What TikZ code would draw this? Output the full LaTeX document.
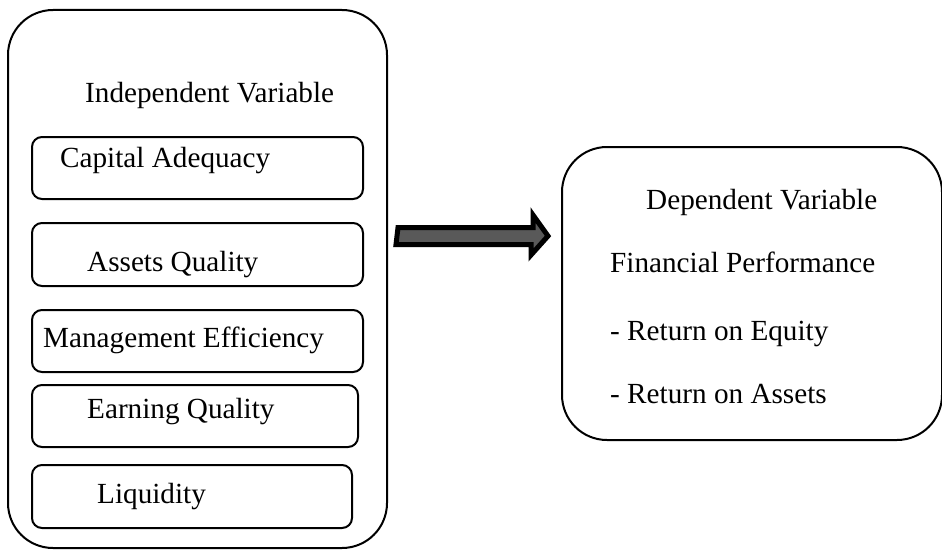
\documentclass[tikz,border=0pt]{standalone}
\usepackage{fontspec}
\setmainfont{Liberation Serif}
\begin{document}
\begin{tikzpicture}[x=1pt, y=-1pt,
	groupBox/.style={rectangle, draw=black, line width=2pt, rounded corners=45pt},
	itemBox/.style={rectangle, draw=black, line width=2pt, rounded corners=10pt, minimum height=62pt},
	itemText/.style={anchor=base west, inner sep=0pt, font=\fontsize{29.2}{35}\selectfont}]
	\useasboundingbox (0,0) rectangle (942,551);

	\node[groupBox, minimum width=379pt, minimum height=538pt](indepBox) at (197.5,279){};
	\node[groupBox, minimum width=380pt, minimum height=293pt](depBox) at (752,293.5){};

	\node[itemBox, minimum width=331pt](capitalBox) at (197.5,168){};
	\node[itemBox, minimum width=331pt, minimum height=63pt](assetsBox) at (197.5,254.5){};
	\node[itemBox, minimum width=331pt](managementBox) at (197.5,341){};
	\node[itemBox, minimum width=326pt](earningBox) at (195,416){};
	\node[itemBox, minimum width=320pt, minimum height=63pt](liquidityBox) at (192,496.5){};

	\node[itemText](indepText) at (85,102){Independent Variable};
	\node[itemText](capitalText) at (60,167){Capital Adequacy};
	\node[itemText](assetsText) at (87,271){Assets Quality};
	\node[itemText](managementText) at (43,347){Management Efficiency};
	\node[itemText](earningText) at (87,418){Earning Quality};
	\node[itemText](liquidityText) at (97,503){Liquidity};

	\node[itemText](depText) at (646,209){Dependent Variable};
	\node[itemText](perfText) at (610,272){Financial Performance};
	\node[itemText](roeText) at (610,340){- Return on Equity};
	\node[itemText](roaText) at (610,403){- Return on Assets};

	% fat arrow between the two groups
	\coordinate (flowStart) at ([xshift=10pt]indepBox.east |- 0,236);
	\coordinate (flowEnd) at ([xshift=-13pt]depBox.west |- 0,236);
	\draw[line width=5pt, fill=black!65, line join=miter] (flowStart) ++(0,-8.5) -- ++(135,0) -- ++(0,-12.5)
		-- (flowEnd) -- ++(-17,19) -- ++(0,-10.5) -- ++(-135,0) -- cycle;
\end{tikzpicture}
\end{document}
